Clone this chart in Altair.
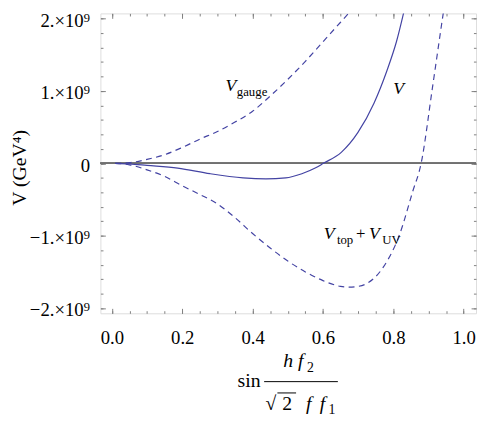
import altair as alt
import pandas as pd

# ---- data (potential values in units of 1e9 GeV^4) ----
x_total = [0.01, 0.05, 0.1, 0.187, 0.279, 0.373, 0.438, 0.494, 0.54, 0.578, 0.601, 0.652, 0.699, 0.745, 0.782, 0.809, 0.835]
v_total = [0.0, -0.008, -0.028, -0.065, -0.143, -0.201, -0.215, -0.201, -0.143, -0.065, 0.0, 0.152, 0.424, 0.832, 1.284, 1.684, 2.2]

x_gauge = [0.01, 0.05, 0.1, 0.15, 0.2, 0.25, 0.3, 0.35, 0.4, 0.45, 0.5, 0.55, 0.6, 0.65, 0.7]
v_gauge = [0.0, 0.01, 0.055, 0.12, 0.22, 0.335, 0.44, 0.57, 0.72, 0.93, 1.16, 1.41, 1.68, 1.95, 2.22]

x_topuv = [0.01, 0.05, 0.1, 0.15, 0.2, 0.25, 0.3, 0.35, 0.4, 0.45, 0.5, 0.55, 0.6, 0.65, 0.675, 0.7, 0.725, 0.772, 0.818, 0.855, 0.879, 0.911, 0.939, 0.955]
v_topuv = [0.0, -0.02, -0.09, -0.18, -0.31, -0.43, -0.56, -0.75, -0.97, -1.17, -1.35, -1.50, -1.62, -1.70, -1.71, -1.70, -1.66, -1.43, -0.98, -0.39, 0.0, 1.04, 1.98, 2.5]

# curve-label anchors (data coordinates)
label_name = ["gauge", "total", "topuv"]
label_x = [0.323, 0.800, 0.602]
label_y = [0.998, 0.957, -1.052]

# axes
x_major = [0.0, 0.2, 0.4, 0.6, 0.8, 1.0]
x_minor = [0.0, 0.05, 0.1, 0.15, 0.2, 0.25, 0.3, 0.35, 0.4, 0.45, 0.5, 0.55, 0.6, 0.65, 0.7, 0.75, 0.8, 0.85, 0.9, 0.95, 1.0]
y_major = [-2, -1, 0, 1, 2]
y_major_labels = ["\u22122.\u00d710\u2079", "\u22121.\u00d710\u2079", "0", "1.\u00d710\u2079", "2.\u00d710\u2079"]
y_minor = [-2.0, -1.8, -1.6, -1.4, -1.2, -1.0, -0.8, -0.6, -0.4, -0.2, 0.0, 0.2, 0.4, 0.6, 0.8, 1.0, 1.2, 1.4, 1.6, 1.8, 2.0]

X_DOMAIN = [-0.0325, 1.035]
Y_DOMAIN = [-2.072, 2.072]
W, H = 382, 305
FONT = "Liberation Serif"
LINE = "#4343a3"
TICK = "#808080"
MAJ, MIN = 5, 2.6
TF = 19  # tick label font size
XT = 20  # x title font size

df_total = pd.DataFrame({"x": x_total, "v": v_total})
df_gauge = pd.DataFrame({"x": x_gauge, "v": v_gauge})
df_topuv = pd.DataFrame({"x": x_topuv, "v": v_topuv})
df_lab = pd.DataFrame({"name": label_name, "x": label_x, "v": label_y})

label_expr = " : ".join(
    f"datum.value == {v} ? '{t}'" for v, t in zip(y_major, y_major_labels)
) + " : ''"

xs = alt.Scale(domain=X_DOMAIN, nice=False, zero=False)
ys = alt.Scale(domain=Y_DOMAIN, nice=False, zero=False)


def axis(orient, values, size, **kw):
    base = dict(orient=orient, values=values, tickSize=size, offset=-size,
                domain=False, grid=False, ticks=True, tickColor=TICK,
                tickWidth=1, labels=False, title=None)
    base.update(kw)
    return alt.Axis(**base)


bottom_major = axis("bottom", x_major, MAJ, labels=True, format=".1f",
                    labelFont=FONT, labelFontSize=TF, labelColor="black",
                    labelPadding=16)
left_major = axis("left", y_major, MAJ, labels=True, labelExpr=label_expr,
                  labelFont=FONT, labelFontSize=TF, labelColor="black",
                  labelPadding=11, labelOffset=2, labelBound=False)

zero = alt.Chart(df_total).mark_rule(color="#707070", strokeWidth=1).encode(
    y=alt.datum(0, scale=ys, axis=None)
)

topuv = alt.Chart(df_topuv).mark_line(
    color=LINE, strokeWidth=1.2, strokeDash=[6, 4.5], clip=True, interpolate="monotone"
).encode(
    x=alt.X("x:Q", scale=xs, axis=axis("bottom", x_minor, MIN)),
    y=alt.Y("v:Q", scale=ys, axis=axis("left", y_minor, MIN)),
)

gauge = alt.Chart(df_gauge).mark_line(
    color=LINE, strokeWidth=1.2, strokeDash=[6, 4.5], clip=True, interpolate="monotone"
).encode(
    x=alt.X("x:Q", scale=xs, axis=axis("top", x_major, MAJ)),
    y=alt.Y("v:Q", scale=ys, axis=axis("right", y_major, MAJ)),
)

total = alt.Chart(df_total).mark_line(
    color=LINE, strokeWidth=1.2, clip=True, interpolate="monotone"
).encode(
    x=alt.X("x:Q", scale=xs, axis=bottom_major),
    y=alt.Y("v:Q", scale=ys, axis=left_major),
)

# italic V at every label anchor; also carries the top/right minor ticks
v_text = alt.Chart(df_lab).mark_text(
    text="V", font=FONT, fontStyle="italic", fontSize=18, align="left", baseline="alphabetic"
).encode(
    x=alt.X("x:Q", scale=xs, axis=axis("top", x_minor, MIN)),
    y=alt.Y("v:Q", scale=ys, axis=axis("right", y_minor, MIN)),
)


def part(name, text, dx, dy, size, style="normal"):
    return alt.Chart(df_lab).transform_filter(alt.datum.name == name).mark_text(
        text=text, font=FONT, fontStyle=style, fontSize=size, align="left",
        baseline="alphabetic", dx=dx, dy=dy
    ).encode(
        x=alt.X("x:Q", scale=xs, axis=None),
        y=alt.Y("v:Q", scale=ys, axis=None),
    )


parts = [
    part("gauge", "gauge", 11.5, 4.5, 13),
    part("topuv", "top", 13.5, 4.5, 13),
    part("topuv", "+", 33, 0, 17),
    part("topuv", "V", 46, 0, 18, "italic"),
    part("topuv", "UV", 59.5, 4.5, 13),
]


# x-axis title: sin (h f2) / (sqrt2 f f1), placed below the plot
def ptext(text, x, y, size, style="normal"):
    return alt.Chart(df_lab).transform_filter(alt.datum.name == "total").mark_text(
        text=text, font=FONT, fontStyle=style, fontSize=size, align="left",
        baseline="alphabetic"
    ).encode(x=alt.value(x), y=alt.value(y))


title_parts = [
    ptext("sin", 139.5, 380, XT),
    ptext("h", 186, 360, XT, "italic"),
    ptext("f", 201, 360, XT, "italic"),
    ptext("2", 210, 364.5, 14),
    ptext("\u221a", 168, 403, XT),
    ptext("2", 185, 403, XT),
    ptext("f", 209, 403, XT, "italic"),
    ptext("f", 223, 403, XT, "italic"),
    ptext("1", 232, 407, 14),
]
frac_bar = alt.Chart(df_lab).transform_filter(alt.datum.name == "total").mark_rule(
    color="black", strokeWidth=1
).encode(x=alt.value(166.5), x2=alt.value(241.5), y=alt.value(374.5))
sqrt_bar = alt.Chart(df_lab).transform_filter(alt.datum.name == "total").mark_rule(
    color="black", strokeWidth=1
).encode(x=alt.value(180), x2=alt.value(199), y=alt.value(386))

ytitle = alt.Chart(df_lab).transform_filter(alt.datum.name == "total").mark_text(
    text="V (GeV\u2074)", font=FONT, fontSize=20, angle=270, align="center",
    baseline="middle"
).encode(x=alt.value(-82), y=alt.value(157))

chart = alt.layer(
    zero, topuv, gauge, total, v_text, *parts, *title_parts, frac_bar, sqrt_bar, ytitle
).resolve_axis(
    x="independent", y="independent"
).properties(
    width=W, height=H,
    autosize=alt.AutoSizeParams(type="none"),
    padding={"left": 94, "top": 2, "right": 1, "bottom": 104},
).configure_view(
    stroke=TICK, strokeWidth=1
).configure(background="white")

chart.save("out.html", embed_options={"renderer": "svg", "actions": False})
